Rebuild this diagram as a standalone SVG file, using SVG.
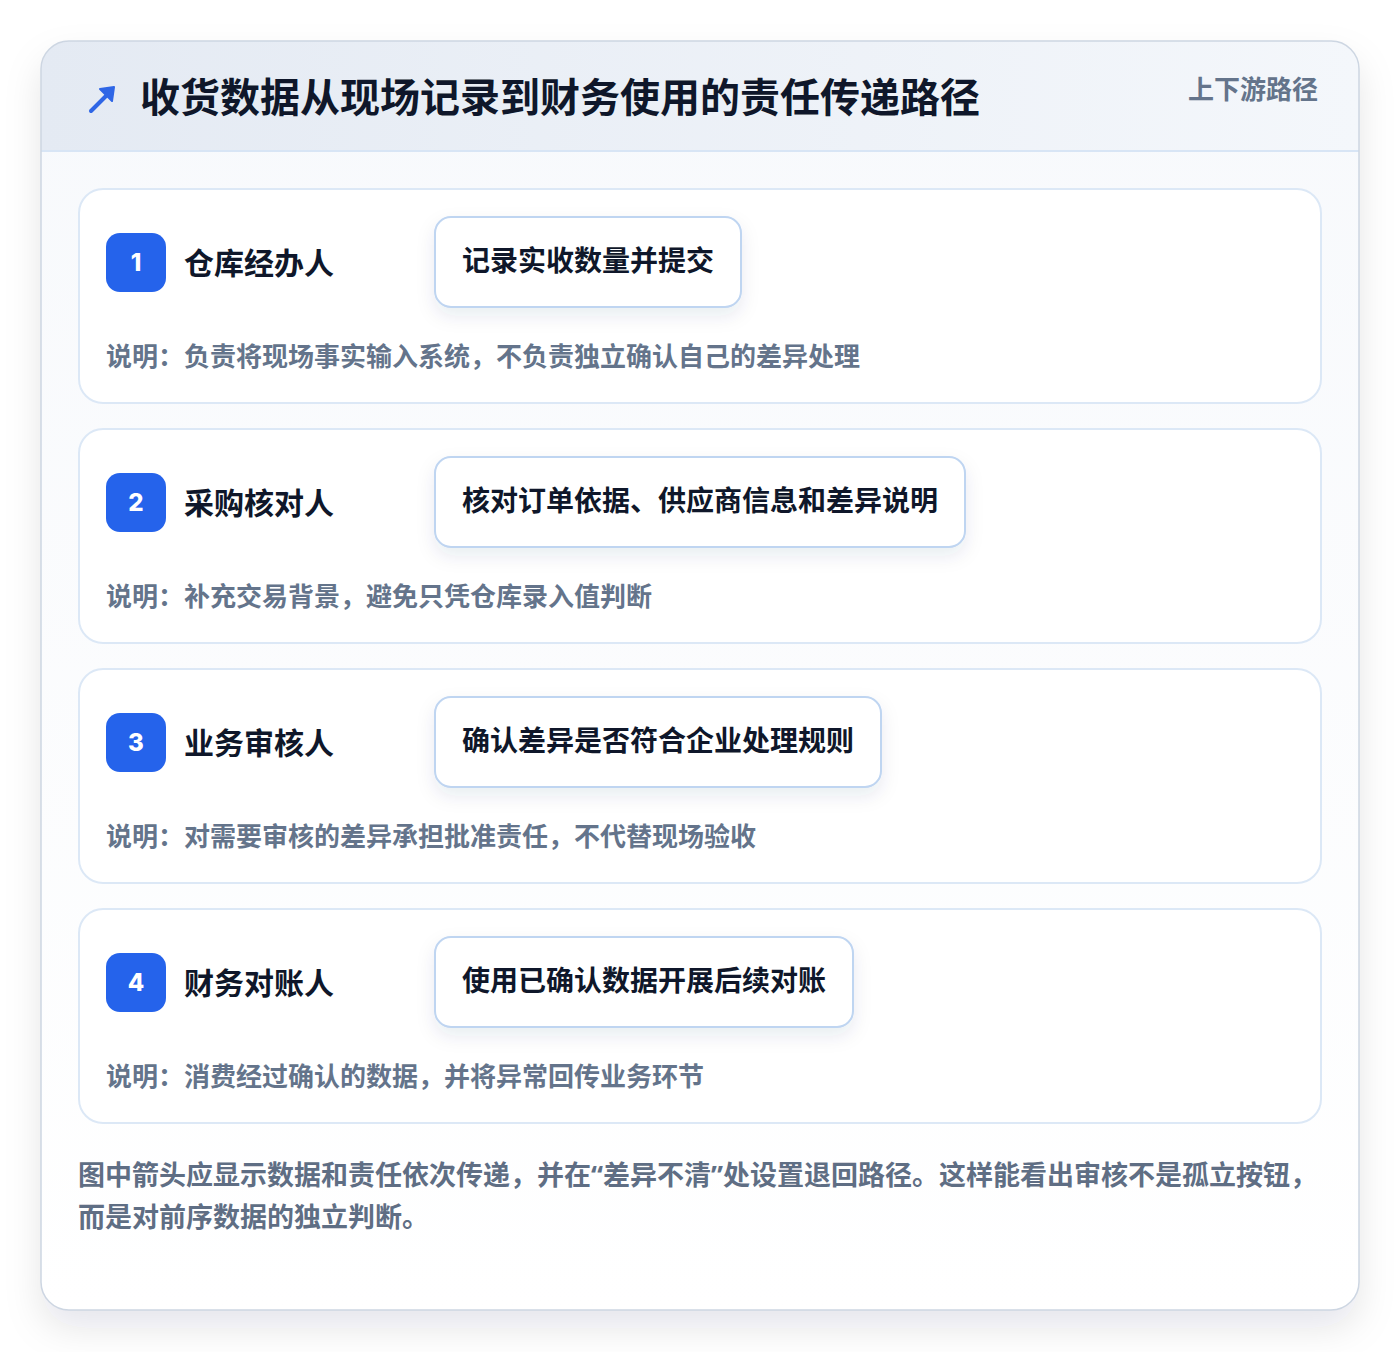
<svg xmlns="http://www.w3.org/2000/svg" width="1400" height="1352" viewBox="0 0 1400 1352">
  <defs>
    <linearGradient id="hdr" x1="0" y1="0" x2="1" y2="0">
      <stop offset="0" stop-color="#e4eaf3"/>
      <stop offset="1" stop-color="#f4f7fb"/>
    </linearGradient>
    <linearGradient id="body" x1="0" y1="0" x2="0" y2="1">
      <stop offset="0" stop-color="#f7f9fc"/>
      <stop offset="1" stop-color="#ffffff"/>
    </linearGradient>
    <clipPath id="outerClip">
      <rect x="41" y="41" width="1318" height="1269" rx="28"/>
    </clipPath>
    <filter id="outerShadow" x="-10%" y="-10%" width="120%" height="125%">
      <feDropShadow dx="0" dy="18" stdDeviation="18" flood-color="#0f172a" flood-opacity="0.10"/>
    </filter>
    <filter id="boxShadow" x="-20%" y="-40%" width="140%" height="190%">
      <feDropShadow dx="0" dy="8" stdDeviation="9" flood-color="#1e3a5f" flood-opacity="0.09"/>
    </filter>
    <style>
      text { font-family: "Noto Sans CJK SC", "Noto Sans", "Liberation Sans", sans-serif; font-weight: 700; }
      .title { font-size: 40px; fill: #0f172a; }
      .sub { font-size: 26px; fill: #64748b; }
      .card { fill: #ffffff; stroke: #dce8f6; stroke-width: 2; }
      .badge { fill: #2563eb; }
      .num { font-family: "Inter", "Liberation Sans", sans-serif; font-size: 24px; fill: #ffffff; text-anchor: middle; font-weight: 800; }
      .role { font-size: 30px; fill: #0f172a; }
      .act { fill: #ffffff; stroke: #bfd5f1; stroke-width: 2; }
      .actt { font-size: 28px; fill: #0f172a; }
      .desc { font-size: 26px; fill: #64748b; }
      .note { font-family: "Noto Sans", "Noto Sans CJK SC", sans-serif; font-size: 27px; fill: #5f6e84; }
    </style>
  </defs>

  <rect x="0" y="0" width="1400" height="1352" fill="#ffffff"/>

  <g id="frame">
    <rect x="41" y="41" width="1318" height="1269" rx="28" fill="url(#body)" filter="url(#outerShadow)"/>
    <g clip-path="url(#outerClip)">
      <rect x="41" y="41" width="1318" height="110" fill="url(#hdr)"/>
      <line x1="41" y1="151" x2="1359" y2="151" stroke="#d8e5f5" stroke-width="2"/>
    </g>
    <rect x="41" y="41" width="1318" height="1269" rx="28" fill="none" stroke="#cdd6e2" stroke-width="1.5"/>
  </g>

  <g id="header">
    <g id="icon" stroke="#2f66e6" stroke-width="4" stroke-linecap="round" fill="none">
      <line x1="91" y1="111" x2="110" y2="92"/>
      <path d="M100 89 L114 87 L112 101 Z" fill="#2f66e6" stroke-linejoin="round" stroke-width="2"/>
    </g>
    <text class="title" x="140" y="112">收货数据从现场记录到财务使用的责任传递路径</text>
    <text class="sub" x="1318" y="99" text-anchor="end">上下游路径</text>
  </g>

  <g id="node-1">
    <rect class="card" x="79" y="189" width="1242" height="214" rx="24"/>
    <rect class="badge" x="106" y="233" width="60" height="59" rx="14"/>
    <text class="num" x="136" y="271">1</text>
    <text class="role" x="184" y="274">仓库经办人</text>
    <rect class="act" x="435" y="217" width="306" height="90" rx="16" filter="url(#boxShadow)"/>
    <text class="actt" x="462" y="271">记录实收数量并提交</text>
    <text class="desc" x="106" y="366">说明：负责将现场事实输入系统，不负责独立确认自己的差异处理</text>
  </g>

  <g id="node-2">
    <rect class="card" x="79" y="429" width="1242" height="214" rx="24"/>
    <rect class="badge" x="106" y="473" width="60" height="59" rx="14"/>
    <text class="num" x="136" y="511">2</text>
    <text class="role" x="184" y="514">采购核对人</text>
    <rect class="act" x="435" y="457" width="530" height="90" rx="16" filter="url(#boxShadow)"/>
    <text class="actt" x="462" y="511">核对订单依据、供应商信息和差异说明</text>
    <text class="desc" x="106" y="606">说明：补充交易背景，避免只凭仓库录入值判断</text>
  </g>

  <g id="node-3">
    <rect class="card" x="79" y="669" width="1242" height="214" rx="24"/>
    <rect class="badge" x="106" y="713" width="60" height="59" rx="14"/>
    <text class="num" x="136" y="751">3</text>
    <text class="role" x="184" y="754">业务审核人</text>
    <rect class="act" x="435" y="697" width="446" height="90" rx="16" filter="url(#boxShadow)"/>
    <text class="actt" x="462" y="751">确认差异是否符合企业处理规则</text>
    <text class="desc" x="106" y="846">说明：对需要审核的差异承担批准责任，不代替现场验收</text>
  </g>

  <g id="node-4">
    <rect class="card" x="79" y="909" width="1242" height="214" rx="24"/>
    <rect class="badge" x="106" y="953" width="60" height="59" rx="14"/>
    <text class="num" x="136" y="991">4</text>
    <text class="role" x="184" y="994">财务对账人</text>
    <rect class="act" x="435" y="937" width="418" height="90" rx="16" filter="url(#boxShadow)"/>
    <text class="actt" x="462" y="991">使用已确认数据开展后续对账</text>
    <text class="desc" x="106" y="1086">说明：消费经过确认的数据，并将异常回传业务环节</text>
  </g>

  <g id="connectors"/>

  <g id="note">
    <text class="note" x="78" y="1185">图中箭头应显示数据和责任依次传递，并在“差异不清”处设置退回路径。这样能看出审核不是孤立按钮，</text>
    <text class="note" x="78" y="1227">而是对前序数据的独立判断。</text>
  </g>
</svg>
